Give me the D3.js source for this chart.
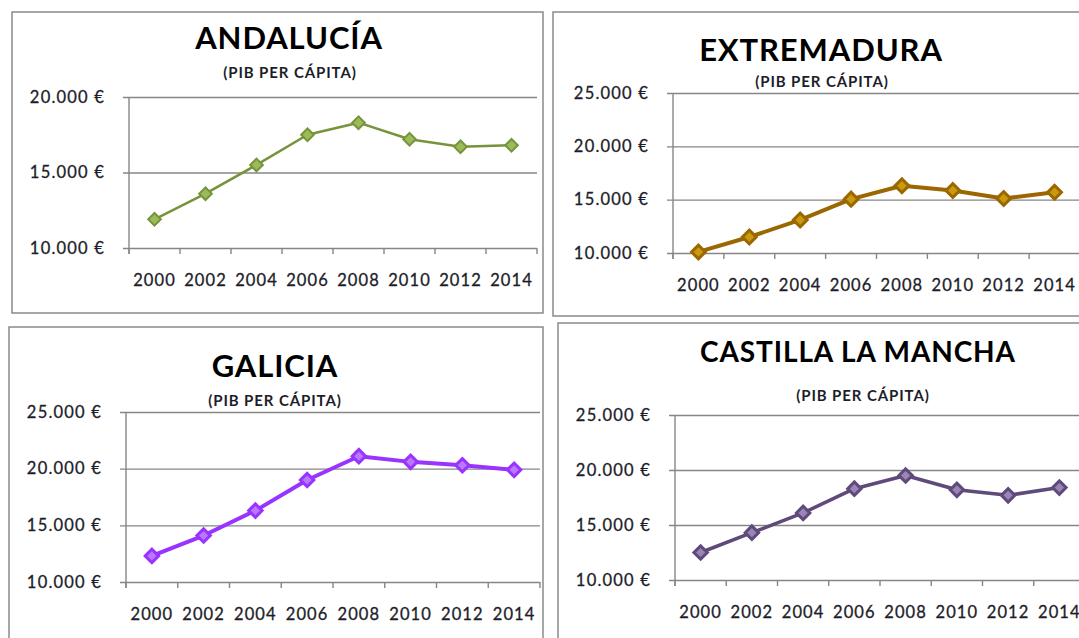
<!DOCTYPE html>
<html>
<head>
<meta charset="utf-8">
<script src="https://cdn.jsdelivr.net/npm/d3@7"></script>
<style>
  body { margin: 0; background: #fff; }
  text { font-family: Lato, "Open Sans", sans-serif; fill: #1d1d2a; }
</style>
</head>
<body>
<script>
// DATA (PIB per cápita, euros)
var years = ["2000", "2002", "2004", "2006", "2008", "2010", "2012", "2014"];
var andalucia   = [11900, 13600, 15500, 17500, 18300, 17200, 16700, 16800];
var extremadura = [10100, 11500, 13100, 15050, 16300, 15850, 15100, 15700];
var galicia     = [12300, 14100, 16300, 19000, 21100, 20600, 20300, 19900];
var castilla    = [12500, 14300, 16100, 18300, 19500, 18200, 17700, 18400];
var ticksAnd = [10000, 15000, 20000];
var ticksOther = [10000, 15000, 20000, 25000];
var subtitle = "(PIB PER CÁPITA)";

var width = 1079, height = 638;

var svg = d3.select("body")
  .append("svg")
  .attr("width", width)
  .attr("height", height);

var euro = d3.formatLocale({ decimal: ",", thousands: ".", grouping: [3], currency: ["", " €"] }).format("$,.0f");

// layout of each panel
var panels = [
  { title: "ANDALUCÍA", values: andalucia, ticks: ticksAnd,
    box: [12, 12, 531, 301], plot: [129, 537, 97, 248],
    tx: 289, ty: 49, tsize: 31, sx: 290, sy: 78,
    line: "#77933C", fill: "#9BBB59", lw: 2.5, mw: 2, ms: 80 },
  { title: "EXTREMADURA", values: extremadura, ticks: ticksOther,
    box: [553, 12, 560, 304], plot: [673, 1080, 93, 253],
    tx: 821, ty: 61, tsize: 31, sx: 822, sy: 87,
    line: "#9A6700", fill: "#C99A0E", lw: 4, mw: 3, ms: 95 },
  { title: "GALICIA", values: galicia, ticks: ticksOther,
    box: [9, 327, 534, 340], plot: [126, 540, 412, 582],
    tx: 275, ty: 377, tsize: 31, sx: 275, sy: 406,
    line: "#9933FF", fill: "#B879FF", lw: 4, mw: 3, ms: 90 },
  { title: "CASTILLA LA MANCHA", values: castilla, ticks: ticksOther,
    box: [558, 323, 560, 340], plot: [675, 1085, 415, 580],
    tx: 858, ty: 362, tsize: 28, sx: 863, sy: 401,
    line: "#5F4A7B", fill: "#9A86B4", lw: 3.5, mw: 3, ms: 90 }
];

panels.forEach(drawPanel);

function drawPanel(p) {
  var g = svg.append("g");

  g.append("rect")
    .attr("x", p.box[0]).attr("y", p.box[1])
    .attr("width", p.box[2]).attr("height", p.box[3])
    .style("fill", "#fff")
    .style("stroke", "#8a8a8a")
    .style("stroke-width", 1.5);

  var x0 = p.plot[0], x1 = p.plot[1], yTop = p.plot[2], yBot = p.plot[3];

  var x = d3.scaleBand().domain(years).range([x0, x1]);
  var y = d3.scaleLinear().domain([10000, d3.max(p.ticks)]).range([yBot, yTop]);

  // y axis + gridlines
  var yAxis = g.append("g")
    .attr("transform", "translate(" + x0 + ",0)")
    .call(d3.axisLeft(y).tickValues(p.ticks).tickFormat(euro).tickSize(6).tickPadding(18));
  yAxis.select(".domain").remove();
  yAxis.selectAll(".tick line")
    .attr("x2", x1 - x0)
    .attr("x1", -6)
    .style("stroke", "#868686")
    .style("stroke-width", 1.4);
  yAxis.selectAll(".tick text")
    .style("font-size", "16.5px")
    .style("letter-spacing", "1.2px")
    .style("fill", "#1d1d2a")
    .style("stroke", "#1d1d2a")
    .style("stroke-width", 0.3);

  g.append("line")
    .attr("x1", x0).attr("x2", x0)
    .attr("y1", yTop).attr("y2", yBot + 6)
    .style("stroke", "#868686")
    .style("stroke-width", 1.4);

  // category boundary ticks
  var bounds = years.map(function (d) { return x(d); }).concat([x1]);
  g.selectAll(".xt")
    .data(bounds)
    .enter().append("line")
    .attr("x1", function (d) { return d; })
    .attr("x2", function (d) { return d; })
    .attr("y1", yBot)
    .attr("y2", yBot + 6)
    .style("stroke", "#868686")
    .style("stroke-width", 1.4);

  // x labels
  g.selectAll(".xl")
    .data(years)
    .enter().append("text")
    .attr("x", function (d) { return x(d) + x.bandwidth() / 2; })
    .attr("y", yBot + 38)
    .attr("text-anchor", "middle")
    .style("font-size", "16.5px")
    .style("letter-spacing", "1.1px")
    .style("stroke", "#1d1d2a")
    .style("stroke-width", 0.3)
    .text(function (d) { return d; });

  // line
  var line = d3.line()
    .x(function (d, i) { return x(years[i]) + x.bandwidth() / 2; })
    .y(function (d) { return y(d); });

  g.append("path")
    .datum(p.values)
    .attr("d", line)
    .style("fill", "none")
    .style("stroke", p.line)
    .style("stroke-width", p.lw)
    .style("stroke-linejoin", "round");

  // markers
  var sym = d3.symbol().type(d3.symbolSquare).size(p.ms);
  g.selectAll(".mk")
    .data(p.values)
    .enter().append("path")
    .attr("d", sym)
    .attr("transform", function (d, i) {
      return "translate(" + (x(years[i]) + x.bandwidth() / 2) + "," + y(d) + ") rotate(45)";
    })
    .style("fill", p.fill)
    .style("stroke", p.line)
    .style("stroke-width", p.mw);

  // titles
  g.append("text")
    .attr("x", p.tx).attr("y", p.ty)
    .attr("text-anchor", "middle")
    .style("font-size", p.tsize + "px")
    .style("font-weight", "bold")
    .style("letter-spacing", "0.9px")
    .style("fill", "#000")
    .text(p.title);

  g.append("text")
    .attr("x", p.sx).attr("y", p.sy)
    .attr("text-anchor", "middle")
    .style("font-size", "15px")
    .style("font-weight", "bold")
    .style("letter-spacing", "0.9px")
    .style("fill", "#1d1d2a")
    .text(subtitle);
}
</script>
</body>
</html>
